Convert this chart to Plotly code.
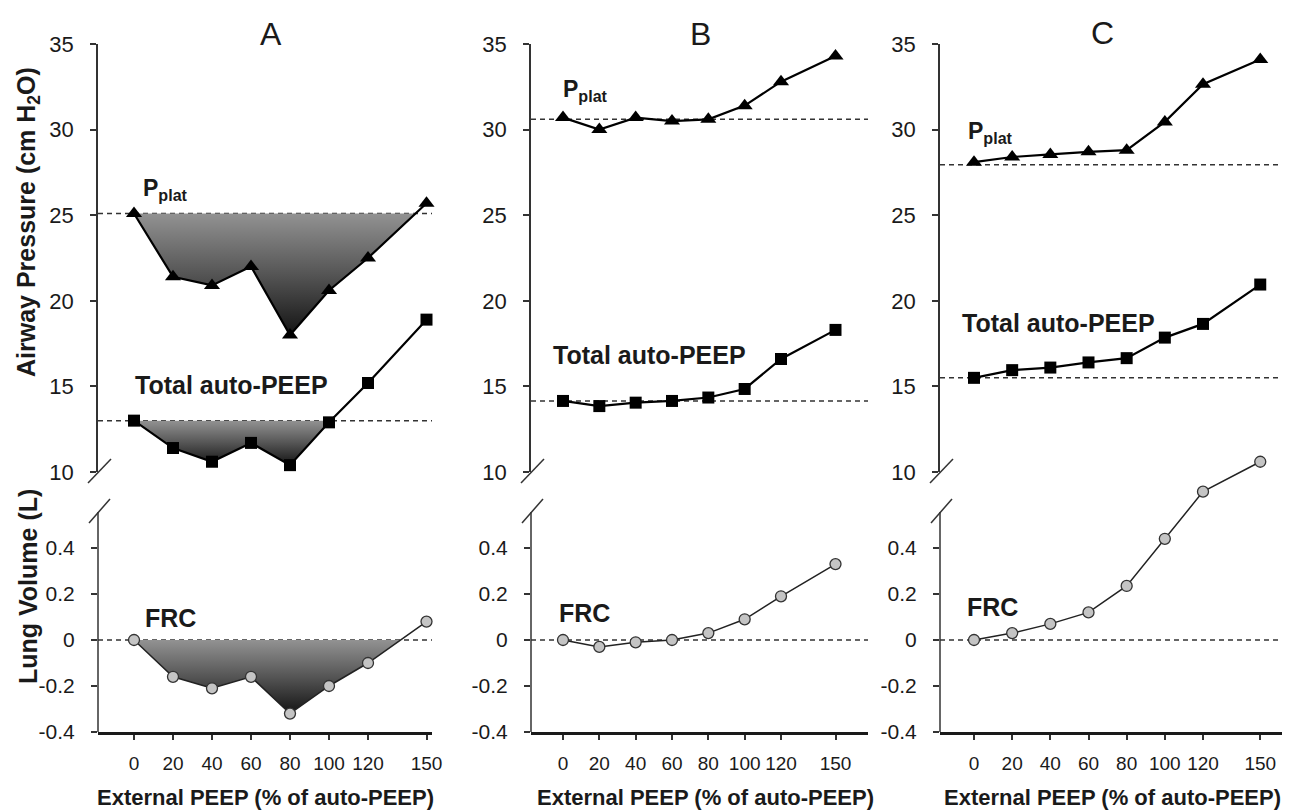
import plotly.graph_objects as go

# ---------------- data ----------------
x_peep = [0, 20, 40, 60, 80, 100, 120, 150]
x_tick_vals = [0, 20, 40, 60, 80, 100, 120, 150]
x_tick_text = ["0", "20", "40", "60", "80", "100", "120", "150"]
p_tick_vals = [10, 15, 20, 25, 30, 35]
p_tick_text = ["10", "15", "20", "25", "30", "35"]
v_tick_vals = [-0.4, -0.2, 0, 0.2, 0.4]
v_tick_text = ["-0.4", "-0.2", "0", "0.2", "0.4"]

panel_names = ["A", "B", "C"]
pplat_A = [25.1, 21.4, 20.9, 22.0, 18.0, 20.6, 22.5, 25.7]
pplat_B = [30.7, 30.0, 30.7, 30.5, 30.6, 31.4, 32.8, 34.3]
pplat_C = [28.1, 28.4, 28.55, 28.7, 28.8, 30.45, 32.65, 34.1]
autopeep_A = [13.0, 11.4, 10.6, 11.7, 10.4, 12.9, 15.2, 18.9]
autopeep_B = [14.15, 13.85, 14.05, 14.15, 14.35, 14.85, 16.6, 18.3]
autopeep_C = [15.5, 15.95, 16.1, 16.4, 16.65, 17.85, 18.65, 20.95]
frc_A = [0.0, -0.16, -0.21, -0.16, -0.32, -0.20, -0.10, 0.08]
frc_B = [0.0, -0.03, -0.01, 0.0, 0.03, 0.09, 0.19, 0.33]
frc_C = [0.0, 0.03, 0.07, 0.12, 0.235, 0.44, 0.645, 0.775]
pplat_base = [25.1, 30.6, 27.95]
autopeep_base = [13.0, 14.15, 15.5]
frc_base = [0.0, 0.0, 0.0]
shaded = [True, False, False]

pplat = [pplat_A, pplat_B, pplat_C]
autopeep = [autopeep_A, autopeep_B, autopeep_C]
frc = [frc_A, frc_B, frc_C]

# ---------------- layout constants (pixels) ----------------
W, H = 1289, 810
def fx(px):
    return px / W
def fy(py):
    return 1 - py / H

# y-axis x position, right edge, pixel of x=0, pixel of x=120
panel_px = [(98, 432, 134, 368), (531, 868, 563, 781), (940, 1282, 974, 1203)]
TOP_PX, TEN_PX = 44, 472          # 35 and 10 on pressure axis
VOL_BOT_PX, VOL_04_PX = 732, 548  # -0.4 and 0.4 on volume axis
VOL_DOM_TOP_PX = 440
VOL_LINE_TOP_PX = 512
vol_scale = (VOL_BOT_PX - VOL_04_PX) / 0.8
vol_top_val = -0.4 + (VOL_BOT_PX - VOL_DOM_TOP_PX) / vol_scale
vol_line_top_val = -0.4 + (VOL_BOT_PX - VOL_LINE_TOP_PX) / vol_scale

FONT = "Liberation Sans, Arial, sans-serif"
INK = "#1a1a1a"
AX = "#333333"

def clip_below(xs, ys, base):
    px, py = [], []
    for i in range(len(xs)):
        px.append(xs[i])
        py.append(min(ys[i], base))
        if i + 1 < len(xs):
            a, b = ys[i] - base, ys[i + 1] - base
            if a * b < 0:
                t = a / (a - b)
                px.append(xs[i] + t * (xs[i + 1] - xs[i]))
                py.append(base)
    return px, py

def ax_id(letter, i):
    return letter if i == 1 else f"{letter}{i}"

fig = go.Figure()
layout = dict(
    width=W, height=H, margin=dict(l=0, r=0, t=0, b=0, autoexpand=False),
    paper_bgcolor="white", plot_bgcolor="rgba(0,0,0,0)",
    showlegend=False, font=dict(family=FONT, color=INK),
)
shapes = []
annotations = []
grad = [[0, "#141414"], [0.5, "#555555"], [1, "#929292"]]

for p in range(3):
    ax_px, right_px, x0_px, x120_px = panel_px[p]
    sc = (x120_px - x0_px) / 120.0
    xr = [(ax_px - x0_px) / sc, (right_px - x0_px) / sc]
    dom = [fx(ax_px), fx(right_px)]
    it = 2 * p + 1
    ib = 2 * p + 2
    xt, yt = ax_id("x", it), ax_id("y", it)
    xb, yb = ax_id("x", ib), ax_id("y", ib)
    xt_name = "xaxis" if it == 1 else f"xaxis{it}"
    yt_name = "yaxis" if it == 1 else f"yaxis{it}"

    # axes
    layout[xt_name] = dict(domain=dom, range=xr, anchor=yt, visible=False, fixedrange=True)
    layout[yt_name] = dict(
        domain=[fy(TEN_PX), fy(TOP_PX)], range=[10, 35], anchor=xt,
        tickvals=p_tick_vals, ticktext=p_tick_text, ticks="outside", ticklen=6,
        tickwidth=1.5, tickcolor=AX, showline=True, linecolor=AX, linewidth=1.5,
        showgrid=False, zeroline=False, tickfont=dict(size=22, color=INK, family=FONT),
        ticklabelstandoff=12, automargin=False,
    )
    layout[f"xaxis{ib}"] = dict(
        domain=dom, range=xr, anchor=yb, tickvals=x_tick_vals, ticktext=x_tick_text,
        ticks="outside", ticklen=5, tickwidth=1.5, tickcolor=AX, showline=True,
        linecolor=INK, linewidth=2.5, showgrid=False, zeroline=False,
        tickfont=dict(size=19, color=INK, family=FONT), ticklabelstandoff=7,
        automargin=False,
    )
    layout[f"yaxis{ib}"] = dict(
        domain=[fy(VOL_BOT_PX), fy(VOL_DOM_TOP_PX)], range=[-0.4, vol_top_val], anchor=xb,
        tickvals=v_tick_vals, ticktext=v_tick_text, ticks="outside", ticklen=6,
        tickwidth=1.5, tickcolor=AX, showline=False, showgrid=False, zeroline=False,
        tickfont=dict(size=21, color=INK, family=FONT), ticklabelstandoff=12,
        automargin=False,
    )

    # lower y axis line and break marks
    shapes.append(dict(type="line", xref="paper", yref=yb, x0=fx(ax_px), x1=fx(ax_px),
                       y0=-0.4, y1=vol_line_top_val, line=dict(color=AX, width=1.5)))
    shapes.append(dict(type="line", xref="paper", yref="paper",
                       x0=fx(ax_px - 10), y0=fy(483), x1=fx(ax_px + 13), y1=fy(459),
                       line=dict(color=AX, width=1.5)))
    shapes.append(dict(type="line", xref="paper", yref="paper",
                       x0=fx(ax_px - 9), y0=fy(523), x1=fx(ax_px + 12), y1=fy(499),
                       line=dict(color=AX, width=1.5)))

    # dashed reference lines
    for xa, ya, base in ((xt, yt, pplat_base[p]), (xt, yt, autopeep_base[p]), (xb, yb, frc_base[p])):
        shapes.append(dict(type="line", xref=f"{xa} domain", yref=ya,
                           x0=0, x1=1, y0=base, y1=base, layer="below",
                           line=dict(color=AX, width=1.5, dash="5px,4px")))

    # shaded areas
    if shaded[p]:
        for ys, base, xa, ya in ((pplat[p], pplat_base[p], xt, yt),
                                 (autopeep[p], autopeep_base[p], xt, yt),
                                 (frc[p], frc_base[p], xb, yb)):
            cx, cy = clip_below(x_peep, ys, base)
            fig.add_trace(go.Scatter(
                x=cx, y=cy, mode="lines", fill="toself", line=dict(width=0),
                fillcolor="#666666",
                fillgradient=dict(type="vertical", colorscale=grad),
                xaxis=xa, yaxis=ya, hoverinfo="skip"))

    # data lines
    fig.add_trace(go.Scatter(
        x=x_peep, y=pplat[p], mode="lines+markers", xaxis=xt, yaxis=yt,
        line=dict(color="black", width=2.2),
        marker=dict(symbol="triangle-up", size=14, color="black"), cliponaxis=False))
    fig.add_trace(go.Scatter(
        x=x_peep, y=autopeep[p], mode="lines+markers", xaxis=xt, yaxis=yt,
        line=dict(color="black", width=2.2),
        marker=dict(symbol="square", size=12, color="black"), cliponaxis=False))
    fig.add_trace(go.Scatter(
        x=x_peep, y=frc[p], mode="lines+markers", xaxis=xb, yaxis=yb,
        line=dict(color="#222222", width=1.5),
        marker=dict(symbol="circle", size=11, color="#c4c4c4",
                    line=dict(color="#333333", width=1.3)), cliponaxis=False))

# text labels (pixel positions)
title_px = [(271, 34), (700, 34), (1102, 33)]
pplat_px = [(141, 190), (561, 90), (966, 132)]
auto_px = [(133, 385), (551, 355), (960, 323)]
frc_px = [(143, 618), (557, 613), (965, 607)]
xtitle_px = [(265, 797), (706, 797), (1112, 797)]

def label(text, px, size, xanchor="left", angle=0):
    return dict(text=text, x=fx(px[0]), y=fy(px[1]), xref="paper", yref="paper",
                showarrow=False, xanchor=xanchor, yanchor="middle", textangle=angle,
                font=dict(size=size, color=INK, family=FONT))

for p in range(3):
    annotations.append(label(panel_names[p], title_px[p], 32, "center"))
    annotations.append(label("<b>P<sub>plat</sub></b>", pplat_px[p], 23))
    annotations.append(label("<b>Total auto-PEEP</b>", auto_px[p], 25))
    annotations.append(label("<b>FRC</b>", frc_px[p], 25))
    annotations.append(label("<b>External PEEP (% of auto-PEEP)</b>", xtitle_px[p], 22, "center"))

annotations.append(label("<b>Airway Pressure (cm H<sub>2</sub>O)</b>", (28, 222), 25, "center", -90))
annotations.append(label("<b>Lung Volume (L)</b>", (28, 587), 25, "center", -90))

layout["shapes"] = shapes
layout["annotations"] = annotations
fig.update_layout(**layout)

# pin the figure to the page's top-left corner so the page is exactly the figure size
pin_js = (
    "document.documentElement.style.margin='0';"
    "document.body.style.margin='0';"
    "document.body.style.overflow='hidden';"
    "var gd=document.getElementById('{plot_id}');"
    "gd.style.position='fixed';gd.style.left='0px';gd.style.top='0px';"
)
fig.write_html("out.html", post_script=pin_js, config={"displayModeBar": False})
